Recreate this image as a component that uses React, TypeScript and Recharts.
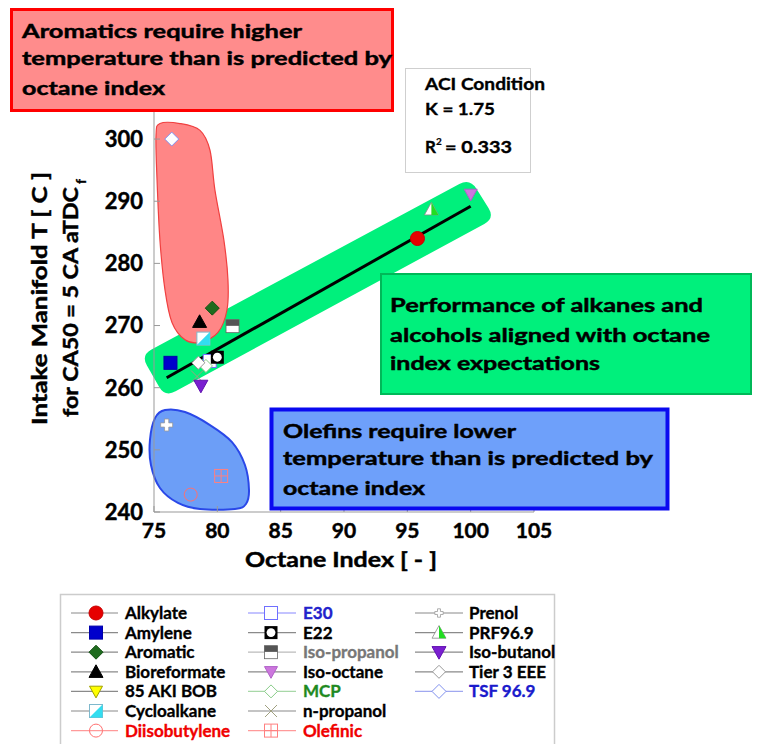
import React from 'react';
import { ScatterChart, Scatter, XAxis, YAxis, ReferenceArea } from 'recharts';

// ---------- data ----------
const fuelNames = [
  'Alkylate', 'Amylene', 'Aromatic', 'Bioreformate', '85 AKI BOB', 'Cycloalkane', 'Diisobutylene',
  'E30', 'E22', 'Iso-propanol', 'Iso-octane', 'MCP', 'n-propanol', 'Olefinic',
  'Prenol', 'PRF96.9', 'Iso-butanol', 'Tier 3 EEE', 'TSF 96.9',
];
const octaneIndex: (number | null)[] = [
  95.8, 76.3, 79.6, 78.6, null, 78.9, 77.9,
  79.4, 80.0, 81.2, 100.0, 79.1, 78.4, 80.3,
  76.0, 96.9, 78.7, 78.5, 76.4,
];
const intakeTemp: (number | null)[] = [
  284.0, 264.0, 272.8, 270.6, null, 267.9, 242.8,
  264.3, 264.9, 269.9, 291.1, 263.5, 261.8, 245.8,
  254.0, 288.7, 260.3, 264.0, 300.0,
];
const xTicks = [75, 80, 85, 90, 95, 100, 105];
const yTicks = [240, 250, 260, 270, 280, 290, 300];
const fitOctane = [76.0, 100.0];
const fitTemp = [261.6, 289.2];

// annotation outlines (data coordinates)
const redBlobOI = [75.47, 77.05, 78.63, 79.42, 79.81, 80.52, 80.84, 80.76, 80.05, 78.63, 77.45, 76.42, 75.87, 75.47, 75.24, 75.16];
const redBlobT = [302.5, 302.5, 301.4, 298.2, 291.8, 283.7, 277.3, 272.5, 268.9, 267.3, 267.7, 270.5, 275.7, 283.7, 293.4, 300.6];
const blueBlobOI = [75.87, 77.45, 79.42, 81.16, 82.18, 82.5, 82.26, 81.39, 78.63, 76.89, 75.47, 74.76, 74.68, 75.08];
const blueBlobT = [256.4, 256.08, 253.99, 251.25, 247.56, 243.54, 241.29, 240.48, 240.48, 241.45, 243.86, 247.56, 251.58, 255.11];
const greenBandOI = [73.97, 99.94, 101.91, 75.87];
const greenBandT = [265.24, 293.7, 287.27, 258.49];

// ---------- styles ----------
type Kind = 'circle' | 'square' | 'diamond' | 'triUp' | 'triDown' | 'cyclo' | 'circleOpen' | 'squareOpen' |
  'e22' | 'isoprop' | 'diamondOpen' | 'x' | 'grid' | 'plus' | 'prf';
interface MS { kind: Kind; fill: string; stroke: string; line: string; h: number; text: string; }
const styles: MS[] = [
  { kind: 'circle', fill: '#E60000', stroke: '#C80000', line: '#8a8a8a', h: 7, text: '#000' },
  { kind: 'square', fill: '#0000CC', stroke: '#0000AA', line: '#8a8a8a', h: 6.5, text: '#000' },
  { kind: 'diamond', fill: '#1E6B1E', stroke: '#145214', line: '#8a8a8a', h: 7, text: '#000' },
  { kind: 'triUp', fill: '#000', stroke: '#000', line: '#8a8a8a', h: 7, text: '#000' },
  { kind: 'triDown', fill: '#FFFF00', stroke: '#A0A000', line: '#8a8a8a', h: 6.5, text: '#000' },
  { kind: 'cyclo', fill: '#33DDF0', stroke: '#7FB8CC', line: '#8a8a8a', h: 6.5, text: '#000' },
  { kind: 'circleOpen', fill: 'none', stroke: '#FF7070', line: '#FF9a9a', h: 6.5, text: '#F00000' },
  { kind: 'squareOpen', fill: '#fff', stroke: '#7070FF', line: '#8888FF', h: 6.5, text: '#2222CC' },
  { kind: 'e22', fill: '#000', stroke: '#000', line: '#8a8a8a', h: 6.5, text: '#000' },
  { kind: 'isoprop', fill: '#555', stroke: '#666', line: '#bbbbbb', h: 6.5, text: '#777' },
  { kind: 'triDown', fill: '#CC77DD', stroke: '#B060C8', line: '#8a8a8a', h: 6.5, text: '#000' },
  { kind: 'diamondOpen', fill: '#fff', stroke: '#88CC88', line: '#a8d8a8', h: 6.5, text: '#1F8A1F' },
  { kind: 'x', fill: 'none', stroke: '#A0A080', line: '#8a8a8a', h: 6, text: '#000' },
  { kind: 'grid', fill: 'none', stroke: '#FF8080', line: '#FF9a9a', h: 6.5, text: '#F00000' },
  { kind: 'plus', fill: '#fff', stroke: '#999', line: '#8a8a8a', h: 6, text: '#000' },
  { kind: 'prf', fill: '#22DD22', stroke: '#888', line: '#8a8a8a', h: 7, text: '#000' },
  { kind: 'triDown', fill: '#7A1FD0', stroke: '#6010B0', line: '#8a8a8a', h: 7, text: '#000' },
  { kind: 'diamondOpen', fill: '#fff', stroke: '#999', line: '#8a8a8a', h: 6.5, text: '#000' },
  { kind: 'diamondOpen', fill: '#fff', stroke: '#8090EE', line: '#A0A8F0', h: 7, text: '#1A1ACC' },
];

const FONT = 'Lato, "Open Sans", sans-serif';

function Marker({ s, cx, cy, scale = 1 }: { s: MS; cx: number; cy: number; scale?: number }) {
  const h = s.h * scale;
  switch (s.kind) {
    case 'circle':
      return <circle cx={cx} cy={cy} r={h} fill={s.fill} stroke={s.stroke} strokeWidth={1} />;
    case 'circleOpen':
      return <circle cx={cx} cy={cy} r={h} fill="none" stroke={s.stroke} strokeWidth={1} />;
    case 'square':
      return <rect x={cx - h} y={cy - h} width={2 * h} height={2 * h} fill={s.fill} stroke={s.stroke} />;
    case 'squareOpen':
      return <rect x={cx - h} y={cy - h} width={2 * h} height={2 * h} fill={s.fill} stroke={s.stroke} strokeWidth={1} />;
    case 'diamond':
    case 'diamondOpen':
      return <polygon points={`${cx},${cy - h} ${cx + h},${cy} ${cx},${cy + h} ${cx - h},${cy}`} fill={s.fill} stroke={s.stroke} strokeWidth={1} />;
    case 'triUp':
      return <polygon points={`${cx},${cy - h} ${cx + h},${cy + h * 0.8} ${cx - h},${cy + h * 0.8}`} fill={s.fill} stroke={s.stroke} />;
    case 'triDown':
      return <polygon points={`${cx - h},${cy - h * 0.8} ${cx + h},${cy - h * 0.8} ${cx},${cy + h}`} fill={s.fill} stroke={s.stroke} />;
    case 'prf':
      return (
        <g>
          <polygon points={`${cx},${cy - h} ${cx + h},${cy + h * 0.8} ${cx - h},${cy + h * 0.8}`} fill="#fff" stroke={s.stroke} strokeWidth={0.8} />
          <polygon points={`${cx},${cy - h} ${cx + h},${cy + h * 0.8} ${cx},${cy + h * 0.8}`} fill={s.fill} />
        </g>
      );
    case 'cyclo':
      return (
        <g>
          <rect x={cx - h} y={cy - h} width={2 * h} height={2 * h} fill="#fff" stroke={s.stroke} />
          <polygon points={`${cx + h},${cy - h} ${cx + h},${cy + h} ${cx - h},${cy + h}`} fill={s.fill} />
        </g>
      );
    case 'e22':
      return (
        <g>
          <rect x={cx - h} y={cy - h} width={2 * h} height={2 * h} fill="#000" />
          <circle cx={cx} cy={cy} r={h * 0.68} fill="#fff" />
        </g>
      );
    case 'isoprop':
      return (
        <g>
          <rect x={cx - h} y={cy - h} width={2 * h} height={2 * h} fill="#fff" stroke={s.stroke} strokeWidth={0.8} />
          <rect x={cx - h} y={cy - h} width={2 * h} height={h * 0.95} fill={s.fill} />
        </g>
      );
    case 'x':
      return (
        <g stroke={s.stroke} strokeWidth={1}>
          <line x1={cx - h} y1={cy - h} x2={cx + h} y2={cy + h} />
          <line x1={cx - h} y1={cy + h} x2={cx + h} y2={cy - h} />
        </g>
      );
    case 'grid':
      return (
        <g stroke={s.stroke} strokeWidth={1} fill="none">
          <rect x={cx - h} y={cy - h} width={2 * h} height={2 * h} />
          <line x1={cx - h} y1={cy} x2={cx + h} y2={cy} />
          <line x1={cx} y1={cy - h} x2={cx} y2={cy + h} />
        </g>
      );
    case 'plus': {
      const a = h * 0.35;
      const p = [
        [cx - a, cy - h], [cx + a, cy - h], [cx + a, cy - a], [cx + h, cy - a], [cx + h, cy + a], [cx + a, cy + a],
        [cx + a, cy + h], [cx - a, cy + h], [cx - a, cy + a], [cx - h, cy + a], [cx - h, cy - a], [cx - a, cy - a],
      ];
      return <polygon points={p.map((q) => q.join(',')).join(' ')} fill={s.fill} stroke={s.stroke} strokeWidth={0.8} />;
    }
    default:
      return null;
  }
}

// ---------- path helpers ----------
function smoothClosed(pts: number[][]) {
  const n = pts.length;
  let d = `M${pts[0][0]},${pts[0][1]}`;
  for (let i = 0; i < n; i++) {
    const p0 = pts[(i - 1 + n) % n], p1 = pts[i], p2 = pts[(i + 1) % n], p3 = pts[(i + 2) % n];
    const c1 = [p1[0] + (p2[0] - p0[0]) / 6, p1[1] + (p2[1] - p0[1]) / 6];
    const c2 = [p2[0] - (p3[0] - p1[0]) / 6, p2[1] - (p3[1] - p1[1]) / 6];
    d += ` C${c1[0]},${c1[1]} ${c2[0]},${c2[1]} ${p2[0]},${p2[1]}`;
  }
  return d + 'Z';
}
function roundedPoly(pts: number[][], r: number) {
  const n = pts.length;
  let d = '';
  for (let i = 0; i < n; i++) {
    const p = pts[i], prev = pts[(i - 1 + n) % n], next = pts[(i + 1) % n];
    const v1 = [prev[0] - p[0], prev[1] - p[1]], l1 = Math.hypot(v1[0], v1[1]);
    const v2 = [next[0] - p[0], next[1] - p[1]], l2 = Math.hypot(v2[0], v2[1]);
    const a = [p[0] + (v1[0] / l1) * r, p[1] + (v1[1] / l1) * r];
    const b = [p[0] + (v2[0] / l2) * r, p[1] + (v2[1] / l2) * r];
    d += `${i === 0 ? 'M' : 'L'}${a[0]},${a[1]} Q${p[0]},${p[1]} ${b[0]},${b[1]} `;
  }
  return d + 'Z';
}

function makeBlobShape(xs: number[], ys: number[], mode: 'smooth' | 'rounded', fill: string, stroke: string, sw: number) {
  const minX = Math.min(...xs), maxX = Math.max(...xs), minY = Math.min(...ys), maxY = Math.max(...ys);
  const shape = (props: any) => {
    const { x, y, width, height } = props;
    const pts = xs.map((dx, i) => [x + ((dx - minX) / (maxX - minX)) * width, y + ((maxY - ys[i]) / (maxY - minY)) * height]);
    const d = mode === 'smooth' ? smoothClosed(pts) : roundedPoly(pts, 12);
    return <path d={d} fill={fill} stroke={stroke} strokeWidth={sw} />;
  };
  return { minX, maxX, minY, maxY, shape };
}

const redBlob = makeBlobShape(redBlobOI, redBlobT, 'smooth', '#FF8686', '#F04040', 1.2);
const blueBlob = makeBlobShape(blueBlobOI, blueBlobT, 'smooth', '#6C9EF7', '#2A48E8', 2);
const greenBand = makeBlobShape(greenBandOI, greenBandT, 'rounded', '#00F07C', 'none', 0);

const fitPoints = fitOctane.map((x, i) => ({ x, y: fitTemp[i] }));
const seriesPoints = fuelNames.map((_, i) =>
  octaneIndex[i] != null && intakeTemp[i] != null ? [{ x: octaneIndex[i] as number, y: intakeTemp[i] as number }] : []
);

// ---------- overlay text helper ----------
function T({ x, y, w, size, children, fill = '#000', anchor = 'start', sw = 0.45 }: any) {
  return (
    <text x={x} y={y} fontSize={size} fontFamily={FONT} fontWeight={700} fill={fill} textAnchor={anchor}
      stroke={fill} strokeWidth={sw}
      textLength={w} lengthAdjust={w ? 'spacingAndGlyphs' : undefined}>
      {children}
    </text>
  );
}

const legendCols = [
  { l1: 71, l2: 118, mx: 96, tx: 125 },
  { l1: 248, l2: 296, mx: 271, tx: 303 },
  { l1: 415, l2: 463, mx: 439, tx: 469 },
];

const tickStyle = (size: number) => ({ fill: '#000', stroke: '#000', strokeWidth: 0.45, fontSize: size, fontWeight: 700, fontFamily: FONT });

export default function App() {
  const legendItems = fuelNames.map((name, i) => {
    const col = i < 7 ? 0 : i < 14 ? 1 : 2;
    const row = i < 7 ? i : i < 14 ? i - 7 : i - 14;
    const c = legendCols[col];
    const yc = 613 + row * 19.6;
    const s = styles[i];
    const sc = s.kind === 'plus' ? 0.7 : 1;
    return (
      <g key={name}>
        <line x1={c.l1} x2={c.l2} y1={yc} y2={yc} stroke={s.line} strokeWidth={1.2} />
        <Marker s={s} cx={c.mx} cy={yc} scale={sc} />
        <text x={c.tx} y={yc + 6} fontSize={17} fontFamily={FONT} fontWeight={700} fill={s.text}
          stroke={s.text} strokeWidth={0.35}>{name}</text>
      </g>
    );
  });

  return (
    <div style={{ position: 'absolute', left: 0, top: 0, width: 770, height: 744, background: '#fff', overflow: 'hidden' }}>
      <ScatterChart width={770} height={744} margin={{ top: 108, right: 236, bottom: 202, left: 94 }}>
        <XAxis type="number" dataKey="x" domain={[75, 105]} ticks={xTicks} height={30} interval={0}
          axisLine={{ stroke: '#999' }} tickLine={{ stroke: '#999' }} tickSize={-6} tickMargin={17}
          tick={tickStyle(21)} allowDataOverflow />
        <YAxis type="number" dataKey="y" domain={[240, 305]} ticks={yTicks} width={60} interval={0}
          axisLine={{ stroke: '#999' }} tickLine={{ stroke: '#999' }} tickSize={-6} tickMargin={17}
          tick={tickStyle(22)} allowDataOverflow />
        <ReferenceArea x1={greenBand.minX} x2={greenBand.maxX} y1={greenBand.minY} y2={greenBand.maxY}
          ifOverflow="visible" shape={greenBand.shape} />
        <ReferenceArea x1={redBlob.minX} x2={redBlob.maxX} y1={redBlob.minY} y2={redBlob.maxY}
          ifOverflow="visible" shape={redBlob.shape} />
        <ReferenceArea x1={blueBlob.minX} x2={blueBlob.maxX} y1={blueBlob.minY} y2={blueBlob.maxY}
          ifOverflow="visible" shape={blueBlob.shape} />
        <Scatter name="fit" data={fitPoints} line={{ stroke: '#000', strokeWidth: 3 }} shape={() => <g />}
          isAnimationActive={false} />
        {fuelNames.map((name, i) => (
          <Scatter key={name} name={name} data={seriesPoints[i]} isAnimationActive={false}
            shape={(p: any) => <Marker s={styles[i]} cx={p.cx} cy={p.cy} />} />
        ))}
      </ScatterChart>

      <svg width={770} height={744} style={{ position: 'absolute', left: 0, top: 0, pointerEvents: 'none' }}>
        {/* axis titles */}
        <T x={245} y={567} w={192} size={21}>Octane Index [ - ]</T>
        <g transform="translate(47,298.5) rotate(-90)">
          <T x={0} y={0} w={253} size={21} anchor="middle">Intake Manifold T [ C ]</T>
        </g>
        <g transform="translate(78,417) rotate(-90)">
          <T x={0} y={0} w={230} size={21}>for CA50 = 5 CA aTDC</T>
        </g>
        <g transform="translate(86,184) rotate(-90)">
          <T x={0} y={0} size={14} sw={0.3}>f</T>
        </g>

        {/* red box */}
        <rect x={11.5} y={9.5} width={381} height={101} fill="#FF8C8C" stroke="#FF0000" strokeWidth={3} />
        <T x={22} y={37.7} w={280} size={19}>Aromatics require higher</T>
        <T x={22} y={65} w={370} size={19}>temperature than is predicted by</T>
        <T x={22} y={95} w={143} size={19}>octane index</T>

        {/* ACI box */}
        <rect x={405.5} y={68.5} width={125} height={104} fill="#fff" stroke="#cfcfcf" strokeWidth={1} />
        <T x={425} y={90} w={120} size={17} sw={0.35}>ACI Condition</T>
        <T x={425} y={115} w={70} size={17} sw={0.35}>K = 1.75</T>
        <T x={425} y={153} size={17} sw={0.35}>R</T>
        <T x={436} y={145} size={10} sw={0.2}>2</T>
        <T x={445} y={153} w={67} size={17} sw={0.35}>= 0.333</T>

        {/* green box */}
        <rect x={381} y={274} width={370} height={120} fill="#00F07C" stroke="#00B858" strokeWidth={2} />
        <T x={390} y={311.7} w={313} size={19}>Performance of alkanes and</T>
        <T x={390} y={341.7} w={320} size={19}>alcohols aligned with octane</T>
        <T x={390} y={370} w={210} size={19}>index expectations</T>

        {/* blue box */}
        <rect x={271.5} y={409.5} width={396} height={99} fill="#6EA0FA" stroke="#0A0AF0" strokeWidth={4} />
        <T x={283} y={438} w={233} size={19}>Olefins require lower</T>
        <T x={283} y={465} w={370} size={19}>temperature than is predicted by</T>
        <T x={283} y={495} w={142} size={19}>octane index</T>

        {/* legend */}
        <rect x={60.5} y={594.5} width={494} height={170} fill="#fff" stroke="#cccccc" strokeWidth={1.5} />
        {legendItems}
      </svg>
    </div>
  );
}
